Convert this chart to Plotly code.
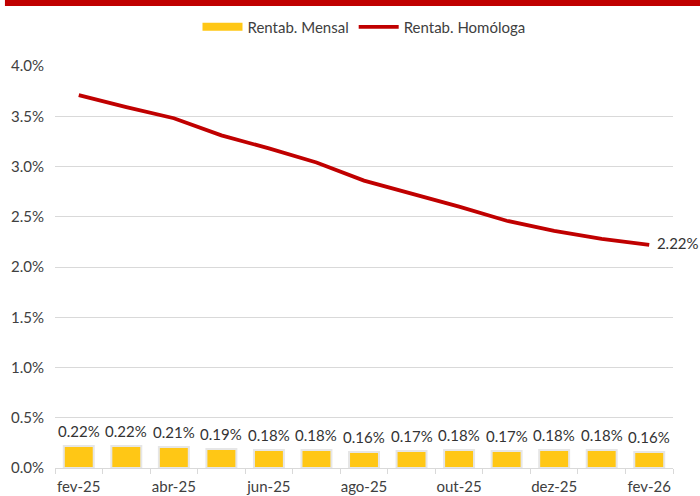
import plotly.graph_objects as go

months = ["fev-25", "mar-25", "abr-25", "mai-25", "jun-25", "jul-25", "ago-25",
          "set-25", "out-25", "nov-25", "dez-25", "jan-26", "fev-26"]
rentab_mensal = [0.22, 0.22, 0.21, 0.19, 0.18, 0.18, 0.16, 0.17, 0.18, 0.17, 0.18, 0.18, 0.16]
rentab_homologa = [3.71, 3.59, 3.48, 3.31, 3.18, 3.04, 2.86, 2.73, 2.60, 2.46, 2.36, 2.28, 2.22]
y_ticks = [0.0, 0.5, 1.0, 1.5, 2.0, 2.5, 3.0, 3.5, 4.0]

FONT = "Lato"
TXT = "#404040"
YELLOW = "#FFC715"
RED = "#C00000"
FS = 15

fig = go.Figure()
fig.add_trace(go.Bar(
    x=months, y=rentab_mensal, name="Rentab. Mensal", showlegend=False,
    marker=dict(color=YELLOW, line=dict(color="#E6E6E6", width=2)),
))
# legend entry for bars (wide rectangle swatch)
fig.add_trace(go.Scatter(
    x=[None], y=[None], name="Rentab. Mensal", mode="lines",
    line=dict(color=YELLOW, width=8),
))
fig.add_trace(go.Scatter(
    x=months, y=rentab_homologa, name="Rentab. Homóloga", mode="lines+text",
    line=dict(color=RED, width=3.8),
    text=[""] * (len(months) - 1) + [f"  {rentab_homologa[-1]:.2f}%"],
    textposition="middle right",
    textfont=dict(family=FONT, size=FS, color="#333333"),
    cliponaxis=False,
))

for m, v in zip(months, rentab_mensal):
    fig.add_annotation(x=m, y=v, text=f"{v:.2f}%", showarrow=False,
                       yanchor="bottom", yshift=4,
                       font=dict(family=FONT, size=FS, color="#333333"))

fig.update_layout(
    width=700, height=496,
    margin=dict(l=55, r=27, t=65, b=28),
    paper_bgcolor="white", plot_bgcolor="white",
    font=dict(family=FONT, size=FS, color=TXT),
    bargap=0.37,
    showlegend=True,
    legend=dict(orientation="h", x=0.5, xanchor="center", y=1.094, yanchor="middle",
                font=dict(family=FONT, size=FS, color=TXT), itemwidth=40,
                traceorder="normal"),
    shapes=[dict(type="rect", xref="paper", yref="paper",
                 x0=-0.081, x1=1.06, y0=1.149, y1=1.17,
                 fillcolor=RED, line=dict(width=0), layer="above")],
)
fig.update_xaxes(
    type="category", tickvals=months, range=[-0.5, len(months) - 0.5],
    ticktext=[m if i % 2 == 0 else "" for i, m in enumerate(months)],
    tickangle=0, automargin=False, ticklabelstandoff=5,
    tickson="boundaries", ticks="outside", ticklen=5, tickcolor="#D9D9D9",
    showline=True, linecolor="#D9D9D9", linewidth=1, showgrid=False,
    tickfont=dict(family=FONT, size=FS, color=TXT),
)
fig.update_yaxes(
    range=[0, 4], tickvals=y_ticks, ticktext=[f"{v:.1f}%" for v in y_ticks],
    automargin=False, ticklabelstandoff=10,
    showgrid=True, gridcolor="#D9D9D9", gridwidth=1, zeroline=False,
    showline=False, ticks="", tickfont=dict(family=FONT, size=FS, color=TXT),
)

fig.write_html("out.html", config={"displayModeBar": False},
               post_script="document.body.style.margin='0';document.body.style.overflow='hidden';")
